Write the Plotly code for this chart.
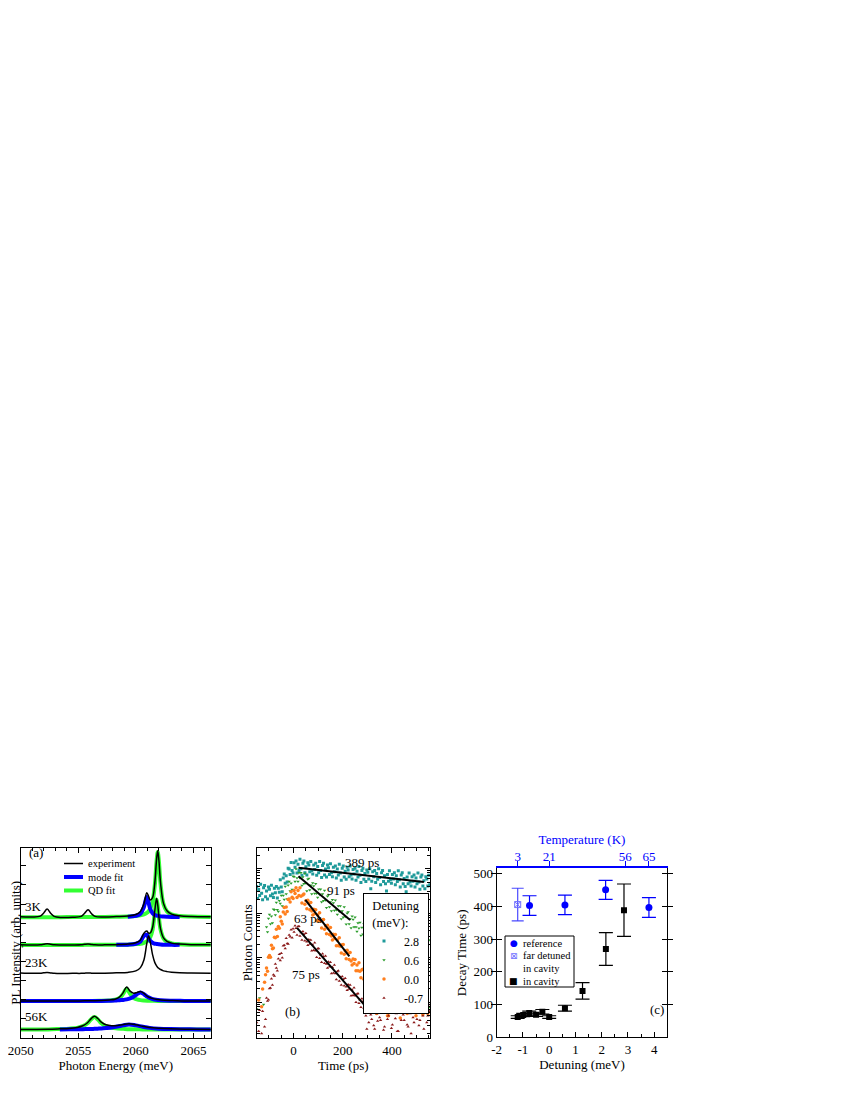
import plotly.graph_objects as go

# ---------------- panel (a): PL spectra, stacked ----------------
OFFSETS = [6.32, 4.86, 3.38, 1.93, 0.44]
TEMP_LABELS = ["3K", "23K", "56K"]

E_HI = [2050, 2051, 2051.7, 2052.0, 2052.3, 2052.6, 2052.9, 2053.5, 2054.5, 2055.25,
        2055.55, 2055.85, 2056.15, 2056.45, 2057.3, 2058.3, 2059.3, 2060.0, 2060.4, 2060.7,
        2060.95, 2061.1, 2061.25, 2061.45, 2061.65, 2061.8, 2061.9, 2062.0, 2062.15, 2062.4,
        2062.7, 2063.1, 2063.8, 2064.8, 2066.6]
EXP_3K = [0.02, 0.01, 0.05, 0.22, 0.42, 0.20, 0.04, -0.02, -0.01, 0.04,
          0.20, 0.38, 0.18, 0.04, 0.01, 0.03, 0.06, 0.14, 0.30, 0.70,
          1.28, 1.10, 0.90, 1.02, 1.82, 3.02, 3.47, 2.98, 1.76, 0.72,
          0.33, 0.16, 0.07, 0.03, 0.02]
MODE_3K = [None] * 16 + [0.02, 0.07, 0.18, 0.53,
           1.05, 0.77, 0.43, 0.21, 0.11, 0.08, 0.07, 0.06, 0.04, 0.03,
           0.02, 0.01, 0.01, None, None]
QD_3K = [0.0, 0.0, 0.0, 0.0, 0.0, 0.0, 0.0, 0.0, 0.01, 0.01,
         0.01, 0.01, 0.01, 0.01, 0.01, 0.02, 0.03, 0.06, 0.09, 0.14,
         0.22, 0.30, 0.44, 0.80, 1.70, 2.93, 3.40, 2.93, 1.70, 0.68,
         0.30, 0.14, 0.06, 0.03, 0.01]
EXP_T2 = [0.01, 0.0, 0.01, 0.04, 0.07, 0.04, 0.01, 0.0, 0.0, 0.01,
          0.04, 0.06, 0.03, 0.01, 0.01, 0.02, 0.05, 0.12, 0.27, 0.62,
          0.73, 0.63, 0.63, 0.92, 1.82, 2.44, 2.10, 1.49, 0.83, 0.37,
          0.19, 0.10, 0.05, 0.02, 0.01]
MODE_T2 = [None] * 15 + [0.01, 0.02, 0.07, 0.19, 0.48,
           0.54, 0.36, 0.22, 0.12, 0.07, 0.06, 0.05, 0.04, 0.03, 0.02,
           0.02, 0.01, 0.01, None, None]
QD_T2 = [0.0, 0.0, 0.0, 0.0, 0.0, 0.0, 0.0, 0.0, 0.0, 0.0,
         0.01, 0.01, 0.01, 0.01, 0.01, 0.01, 0.02, 0.05, 0.07, 0.12,
         0.19, 0.27, 0.41, 0.80, 1.75, 2.38, 2.05, 1.45, 0.80, 0.35,
         0.17, 0.09, 0.04, 0.02, 0.01]
EXP_23K = [0.02, 0.0, 0.01, 0.03, 0.04, 0.02, 0.0, -0.01, 0.0, 0.0,
           0.01, 0.02, 0.01, 0.0, 0.01, 0.03, 0.05, 0.13, 0.30, 0.70,
           1.56, 1.95, 1.65, 0.98, 0.56, 0.39, 0.31, 0.26, 0.20, 0.13,
           0.09, 0.06, 0.03, 0.02, 0.01]

E_T4 = [2050, 2051.5, 2053, 2054.2, 2055.2, 2056.2, 2057.0, 2057.7, 2058.2, 2058.6,
        2058.9, 2059.2, 2059.5, 2059.8, 2060.1, 2060.4, 2060.7, 2061.0, 2061.4, 2061.9,
        2062.5, 2063.2, 2064.2, 2065.2, 2066.6]
EXP_T4 = [0.0, 0.01, 0.0, 0.01, 0.01, 0.02, 0.03, 0.06, 0.10, 0.22,
          0.44, 0.74, 0.52, 0.41, 0.45, 0.50, 0.40, 0.25, 0.14, 0.08,
          0.04, 0.03, 0.01, 0.01, 0.01]
MODE_T4 = [0.0, 0.0, 0.0, 0.0, 0.01, 0.01, 0.01, 0.02, 0.03, 0.05,
           0.06, 0.09, 0.14, 0.23, 0.36, 0.45, 0.36, 0.23, 0.12, 0.06,
           0.03, 0.02, 0.01, 0.01, 0.0]
QD_T4 = [0.0, 0.0, 0.0, 0.0, 0.01, 0.01, 0.02, 0.03, 0.07, 0.17,
         0.38, 0.65, 0.38, 0.17, 0.09, 0.05, 0.03, 0.02, 0.02, 0.01,
         0.01, 0.01, 0.0, 0.0, 0.0]

E_56K = [2050, 2051.4, 2052.4, 2053.4, 2054.2, 2054.9, 2055.4, 2055.8, 2056.1, 2056.4,
         2056.7, 2057.0, 2057.4, 2057.9, 2058.4, 2058.9, 2059.4, 2060.0, 2060.6, 2061.2,
         2062.0, 2063.0, 2064.3, 2065.3, 2066.6]
EXP_56K = [0.01, 0.01, 0.02, 0.04, 0.06, 0.11, 0.20, 0.36, 0.56, 0.70,
           0.58, 0.39, 0.25, 0.20, 0.21, 0.26, 0.30, 0.25, 0.17, 0.11,
           0.07, 0.04, 0.02, 0.02, 0.01]
MODE_56K = [None, None, None, 0.01, 0.02, 0.02, 0.02, 0.03, 0.03, 0.04,
            0.05, 0.06, 0.08, 0.11, 0.16, 0.22, 0.27, 0.22, 0.15, 0.09,
            0.05, 0.03, 0.02, 0.01, 0.01]
QD_56K = [0.01, 0.01, 0.01, 0.03, 0.05, 0.09, 0.18, 0.33, 0.53, 0.66,
          0.53, 0.33, 0.18, 0.09, 0.06, 0.04, 0.02, 0.02, 0.01, 0.01,
          0.01, 0.01, 0.0, 0.0, 0.0]

# ---------------- panel (b): decay traces (log10 of photon counts, 4 ps bins) ----------------
DETUNINGS = ["2.8", "0.6", "0.0", "-0.7"]
T_PS = [-150, -146, -142, -138, -134, -130, -126, -122, -118, -114,
        -110, -106, -102, -98, -94, -90, -86, -82, -78, -74,
        -70, -66, -62, -58, -54, -50, -46, -42, -38, -34,
        -30, -26, -22, -18, -14, -10, -6, -2, 2, 6,
        10, 14, 18, 22, 26, 30, 34, 38, 42, 46,
        50, 54, 58, 62, 66, 70, 74, 78, 82, 86,
        90, 94, 98, 102, 106, 110, 114, 118, 122, 126,
        130, 134, 138, 142, 146, 150, 154, 158, 162, 166,
        170, 174, 178, 182, 186, 190, 194, 198, 202, 206,
        210, 214, 218, 222, 226, 230, 234, 238, 242, 246,
        250, 254, 258, 262, 266, 270, 274, 278, 282, 286,
        290, 294, 298, 302, 306, 310, 314, 318, 322, 326,
        330, 334, 338, 342, 346, 350, 354, 358, 362, 366,
        370, 374, 378, 382, 386, 390, 394, 398, 402, 406,
        410, 414, 418, 422, 426, 430, 434, 438, 442, 446,
        450, 454, 458, 462, 466, 470, 474, 478, 482, 486,
        490, 494, 498, 502, 506, 510, 514, 518, 522, 526,
        530, 534, 538, 542, 546, 550, 554]
LOG_28 = [3.60, 3.33, 3.53, 3.40, 3.65, 3.45, 3.30, 3.57, 3.62, 3.37,
          3.50, 3.32, 3.59, 3.54, 3.39, 3.63, 3.43, 3.35, 3.56, 3.46,
          3.60, 3.34, 3.56, 3.47, 3.75, 3.59, 3.48, 3.79, 3.88, 3.67,
          3.84, 3.70, 4.01, 3.99, 3.87, 4.14, 3.96, 3.90, 4.13, 4.03,
          4.17, 3.90, 4.10, 3.96, 4.21, 4.00, 3.85, 4.12, 4.17, 3.91,
          4.04, 3.86, 4.13, 4.08, 3.93, 4.16, 3.96, 3.88, 4.08, 3.98,
          4.12, 3.85, 4.05, 3.91, 4.16, 3.96, 3.80, 4.07, 4.12, 3.86,
          3.99, 3.81, 4.08, 4.02, 3.87, 4.11, 3.91, 3.82, 4.03, 3.93,
          4.06, 3.79, 3.99, 3.86, 4.10, 3.90, 3.74, 4.01, 4.06, 3.81,
          3.94, 3.76, 4.03, 3.97, 3.82, 4.06, 3.86, 3.77, 3.98, 3.88,
          4.01, 3.74, 3.94, 3.81, 4.05, 3.85, 3.69, 3.96, 4.01, 3.76,
          3.89, 3.71, 3.97, 3.92, 3.77, 4.00, 3.55, 3.72, 3.93, 3.82,
          3.96, 3.69, 3.89, 3.76, 4.00, 3.80, 3.64, 3.91, 3.96, 3.71,
          3.84, 3.66, 3.50, 3.87, 3.72, 3.95, 3.75, 3.67, 3.87, 3.77,
          3.91, 3.64, 3.84, 3.71, 3.95, 3.75, 3.59, 3.86, 3.91, 3.66,
          3.78, 3.60, 3.48, 3.81, 3.66, 3.90, 3.70, 3.61, 3.82, 3.72,
          3.86, 3.59, 3.79, 3.66, 3.90, 3.70, 3.54, 3.81, 3.86, 3.61,
          3.73, 3.55, 3.82, 3.77, 3.61, 3.85, 3.64]
LOG_06 = [0.85, None, None, 1.10, None, None, None, 0.95, None, None,
          2.69, 2.58, 2.88, 2.97, 2.76, 2.93, 2.78, 3.09, 3.08, 2.96,
          3.24, 3.08, 3.04, 3.28, 3.22, 3.40, 3.16, 3.40, 3.31, 3.60,
          3.43, 3.32, 3.63, 3.71, 3.50, 3.67, 3.53, 3.83, 3.82, 3.71,
          3.99, 3.79, 3.71, 3.91, 3.79, 3.91, 3.62, 3.81, 3.66, 3.89,
          3.67, 3.50, 3.76, 3.78, 3.52, 3.63, 3.43, 3.68, 3.61, 3.44,
          3.66, 3.44, 3.35, 3.54, 3.42, 3.54, 3.25, 3.43, 3.28, 3.51,
          3.29, 3.12, 3.38, 3.41, 3.14, 3.25, 3.05, 3.30, 3.23, 3.06,
          3.29, 3.07, 2.97, 3.16, 3.04, 3.16, 2.87, 3.05, 2.91, 3.14,
          2.92, 2.75, 3.00, 3.03, 2.76, 2.87, 2.67, 2.93, 2.86, 2.69,
          2.91, 2.69, 2.59, 2.78, 2.66, 2.79, 2.50, 2.68, 2.53, 2.76,
          2.56, 2.45, 2.52, 2.40, 2.47, 2.36, 2.44, 2.30, 2.38, 2.26,
          2.33, 2.22, 2.28, 2.15, 2.24, 2.10, 2.18, 2.06, 2.12, 2.00,
          2.08, 1.95, 2.02, 1.88, 1.96, 1.84, 1.90, 1.78, 1.86, 1.72,
          1.80, 0.90, 1.74, 1.62, 1.70, 1.58, 1.64, 1.52, 1.60, 1.46,
          1.54, 1.42, 0.95, 1.36, 1.46, 1.30, 1.40, 1.26, 1.34, 1.20,
          1.30, 1.16, 0.80, 1.10, 1.22, 1.04, 1.15, 0.98, 1.08, 0.92,
          1.02, 0.86, 0.96, 1.05, 1.70, 0.88, 2.40]
LOG_00 = [None, None, 1.05, None, None, 0.90, 1.30, None, 1.45, 1.62,
          1.77, 1.70, 2.01, 2.05, 2.01, 2.28, 2.20, 2.22, 2.46, 2.45,
          2.64, 2.48, 2.70, 2.66, 2.92, 2.82, 2.76, 3.03, 3.13, 2.98,
          3.14, 3.04, 3.31, 3.32, 3.25, 3.48, 3.36, 3.33, 3.51, 3.44,
          3.57, 3.35, 3.51, 3.40, 3.57, 3.38, 3.23, 3.41, 3.43, 3.20,
          3.28, 3.10, 3.29, 3.23, 3.08, 3.24, 3.05, 2.96, 3.09, 2.99,
          3.08, 2.83, 2.96, 2.83, 3.01, 2.82, 2.67, 2.85, 2.86, 2.64,
          2.72, 2.54, 2.73, 2.66, 2.52, 2.68, 2.49, 2.40, 2.53, 2.43,
          2.52, 2.27, 2.40, 2.27, 2.45, 2.26, 2.11, 2.29, 2.30, 2.08,
          2.16, 1.98, 2.17, 2.10, 1.96, 2.12, 1.93, 1.84, 1.97, 1.87,
          1.96, 1.71, 1.84, 1.71, 1.89, 1.70, 1.55, 1.73, 1.74, 1.52,
          1.40, 1.30, 1.15, 1.22, 0.95, 1.08, 1.10, 0.82, 0.85, 1.00,
          1.30, None, 0.75, 0.95, 1.05, None, None, 0.80, 0.90, None,
          1.20, None, None, 0.70, 0.70, None, 1.00, None, None, 0.85,
          0.85, None, None, 1.05, 1.10, None, 0.65, None, None, 0.90,
          0.95, None, None, 0.75, 0.80, None, None, 1.00, 1.05, None,
          None, 0.85, 0.70, None, None, 0.95, 0.90, None, None, 0.72,
          1.15, None, None, 0.80, 0.75, None, None]
LOG_M07 = [0.55, None, 0.35, 0.82, None, 0.30, 0.80, None, 0.45, 0.62,
           1.10, 1.03, 1.06, 1.31, 1.32, 1.53, 1.39, 1.62, 1.59, 1.86,
           1.77, 1.71, 1.98, 2.08, 1.94, 2.10, 2.00, 2.27, 2.28, 2.21,
           2.44, 2.32, 2.31, 2.51, 2.47, 2.63, 2.45, 2.65, 2.58, 2.72,
           2.66, 2.51, 2.70, 2.71, 2.49, 2.57, 2.40, 2.59, 2.53, 2.38,
           2.55, 2.36, 2.28, 2.41, 2.31, 2.40, 2.16, 2.29, 2.17, 2.34,
           2.16, 2.01, 2.20, 2.21, 1.99, 2.07, 1.90, 2.09, 2.03, 1.88,
           2.04, 1.86, 1.77, 1.91, 1.80, 1.90, 1.65, 1.79, 1.66, 1.84,
           1.65, 1.51, 1.69, 1.71, 1.48, 1.57, 1.39, 1.58, 1.52, 1.37,
           1.54, 1.35, 1.27, 1.40, 1.30, 1.39, 1.15, 1.28, 1.16, 1.33,
           1.15, 1.00, 1.19, 1.20, 0.98, 1.06, 0.89, 1.08, 1.02, 0.87,
           0.90, 0.70, 0.40, 0.85, 0.55, 0.95, 0.72, 0.62, 0.95, 0.48,
           0.40, 0.80, 0.75, 0.58, 1.00, 0.66, 0.60, 0.88, 0.80, 0.38,
           0.45, 0.92, 0.95, 0.62, 0.70, 0.82, 0.85, 0.42, 0.50, 0.98,
           0.90, 0.64, 0.75, 0.35, 0.35, 0.86, 0.80, 0.60, 1.05, 0.72,
           0.60, 0.94, 0.85, 0.50, 0.45, 0.78, 0.75, 0.30, 0.95, 0.66,
           0.55, 0.88, 0.80, 0.62, 1.00, 0.48, 0.60, 0.92, 0.85, 0.70,
           0.40, 0.82, 0.90, 0.55, 0.70, 0.95, 0.80]
# single-exponential fits, start and end points (time ps, log10 counts)
FIT_T = [[20, 530], [20, 230], [48, 227], [14, 293]]
FIT_LOG = [[4.02, 3.70], [3.83, 2.85], [3.30, 2.03], [2.67, 0.91]]
FIT_LABELS = ["389 ps", "91 ps", "63 ps", "75 ps"]

# ---------------- panel (c): decay time vs detuning ----------------
REF_DET = [-0.75, 0.6, 2.15, 3.8]
REF_TAU = [403, 405, 451, 397]
REF_ERR = [30, 30, 29, 30]
FAR_DET = [-1.2]
FAR_TAU = [406]
FAR_ERR = [50]
CAV_DET = [-1.2, -0.99, -0.76, -0.5, -0.26, 0.0, 0.6, 1.27, 2.16, 2.85]
CAV_TAU = [62, 68, 74, 69, 78, 62, 89, 142, 270, 389]
CAV_ERR = [4, 5, 6, 5, 7, 4, 9, 25, 50, 80]
DET_TICKS = [-2, -1, 0, 1, 2, 3, 4]
TEMP_POS = [-1.2, 0.0, 2.9, 3.8]
TEMP_K = ["3", "21", "56", "65"]

FONT = "Liberation Serif"
BLUE = "#0000ff"
LIGHT_BLUE = "#6f6fff"
GREEN = "#33ff33"
COLORS_B = ["#1f9a9a", "#2a9d2a", "#ff7f1e", "#8b1a1a"]
SYMBOLS_B = ["square", "triangle-down", "circle", "triangle-up"]

fig = go.Figure()

# panel (a)
spectra = [
    (E_HI, EXP_3K, MODE_3K, QD_3K),
    (E_HI, EXP_T2, MODE_T2, QD_T2),
    (E_HI, EXP_23K, None, None),
    (E_T4, EXP_T4, MODE_T4, QD_T4),
    (E_56K, EXP_56K, MODE_56K, QD_56K),
]
styles_a = {3: (GREEN, 4, "QD fit"), 2: (BLUE, 4, "mode fit"), 1: ("black", 1.5, "experiment")}
for kind in (3, 2, 1):
    col, width, name = styles_a[kind]
    for off, spec in zip(OFFSETS, spectra):
        vals = spec[kind]
        if vals is None:
            continue
        y = [None if v is None else v + off for v in vals]
        fig.add_trace(go.Scatter(
            x=spec[0], y=y, mode="lines", line=dict(color=col, width=width, shape="spline"),
            name=name, showlegend=False, xaxis="x", yaxis="y"))

# panel (b)
for lab, logs, col, sym in zip(DETUNINGS, [LOG_28, LOG_06, LOG_00, LOG_M07], COLORS_B, SYMBOLS_B):
    fig.add_trace(go.Scatter(
        x=T_PS, y=[None if v is None else 10 ** v for v in logs], mode="markers",
        marker=dict(color=col, symbol=sym, size=3.5 if sym == "circle" else 3),
        name=lab, legend="legend2", xaxis="x2", yaxis="y2"))
for ft, fl in zip(FIT_T, FIT_LOG):
    fig.add_trace(go.Scatter(
        x=ft, y=[10 ** v for v in fl], mode="lines", line=dict(color="black", width=2),
        showlegend=False, xaxis="x2", yaxis="y2"))

# panel (c)
fig.add_trace(go.Scatter(
    x=REF_DET, y=REF_TAU, mode="markers", name="reference", showlegend=False,
    marker=dict(color=BLUE, size=7, symbol="circle"),
    error_y=dict(type="data", array=REF_ERR, color=BLUE, thickness=1.2, width=7),
    xaxis="x3", yaxis="y3"))
fig.add_trace(go.Scatter(
    x=FAR_DET, y=FAR_TAU, mode="markers", name="far detuned in cavity", showlegend=False,
    marker=dict(color=LIGHT_BLUE, size=6, symbol="square-x-open", line=dict(width=1)),
    error_y=dict(type="data", array=FAR_ERR, color="#4a4aff", thickness=1.2, width=6),
    xaxis="x3", yaxis="y3"))
fig.add_trace(go.Scatter(
    x=CAV_DET, y=CAV_TAU, mode="markers", name="in cavity", showlegend=False,
    marker=dict(color="black", size=6, symbol="square"),
    error_y=dict(type="data", array=CAV_ERR, color="black", thickness=1.2, width=7),
    xaxis="x3", yaxis="y3"))
# carrier for the temperature axis on top
fig.add_trace(go.Scatter(x=TEMP_POS, y=[None] * len(TEMP_POS), mode="markers",
                         showlegend=False, hoverinfo="skip", xaxis="x4", yaxis="y3"))

# the page body has an 8 px margin, so the figure is placed 8 px in and sized to fit
PAGE = 8
W, H = 850 - 2 * PAGE, 1100 - 2 * PAGE


def px_x(a):
    return (a - PAGE) / W


def px_y(b):
    return 1 - (b - PAGE) / H


def dom_x(a, b):
    return [px_x(a), px_x(b)]


def dom_y(top, bottom):
    return [px_y(bottom), px_y(top)]


# compact in-panel keys for (a) and (c)
shapes, notes = [], []
for (col, width, name), yk in zip([styles_a[1], styles_a[2], styles_a[3]], [863.5, 877, 890.5]):
    shapes.append(dict(type="line", xref="paper", yref="paper", x0=px_x(64), x1=px_x(83),
                       y0=px_y(yk), y1=px_y(yk), line=dict(color=col, width=width)))
    notes.append(dict(xref="paper", yref="paper", x=px_x(86), y=px_y(yk), text=name,
                      xanchor="left", yanchor="middle", showarrow=False,
                      font=dict(family=FONT, size=10.5)))
shapes.append(dict(type="rect", xref="paper", yref="paper", x0=px_x(505), x1=px_x(574),
                   y0=px_y(936), y1=px_y(987), line=dict(color="black", width=1),
                   fillcolor="white"))
for sym, col, size, yk in [("●", BLUE, 9, 943), ("⊠", LIGHT_BLUE, 9, 955.5), ("■", "black", 9, 981)]:
    notes.append(dict(xref="paper", yref="paper", x=px_x(513.5), y=px_y(yk), text=sym,
                      xanchor="center", yanchor="middle", showarrow=False,
                      font=dict(family="DejaVu Sans", size=size, color=col)))
for txt, yk in [("reference", 943), ("far detuned", 955.5), ("in cavity", 968.5), ("in cavity", 981)]:
    notes.append(dict(xref="paper", yref="paper", x=px_x(521), y=px_y(yk), text=txt,
                      xanchor="left", yanchor="middle", showarrow=False,
                      font=dict(family=FONT, size=10.5)))

tick_font = dict(family=FONT, size=13, color="black")
title_font = dict(family=FONT, size=13, color="black")
box = dict(showline=True, linecolor="black", linewidth=1, showgrid=False, zeroline=False,
           ticks="inside", tickcolor="black", tickfont=tick_font, mirror="allticks",
           automargin=False, ticklabeloverflow="allow")

fig.update_layout(
    width=W, height=H, margin=dict(l=0, r=0, t=0, b=0),
    paper_bgcolor="white", plot_bgcolor="white",
    font=dict(family=FONT, size=13, color="black"),
    xaxis=dict(box, domain=dom_x(20.7, 210.7), range=[2050, 2066.5], dtick=5, ticklen=5,
               minor=dict(dtick=1, ticklen=3, ticks="inside", tickcolor="black"),
               anchor="y", title=dict(text="Photon Energy (meV)", font=title_font, standoff=2)),
    yaxis=dict(box, domain=dom_y(847.7, 1038), range=[0, 9.95], dtick=1, ticklen=5,
               showticklabels=False, anchor="x",
               title=dict(text="PL Intensity (arb. units)", font=title_font, standoff=1)),
    xaxis2=dict(box, domain=dom_x(256.7, 430), range=[-150, 555], tickvals=[0, 200, 400],
                ticklen=5, minor=dict(dtick=50, ticklen=3, ticks="inside", tickcolor="black"),
                anchor="y2", title=dict(text="Time (ps)", font=title_font, standoff=2)),
    yaxis2=dict(box, domain=dom_y(847.7, 1038), type="log", range=[0.2, 4.47], dtick=1,
                ticklen=5, showticklabels=False, anchor="x2",
                minor=dict(dtick="D1", ticklen=3, ticks="inside", tickcolor="black"),
                title=dict(text="Photon Counts", font=title_font, standoff=0)),
    xaxis3=dict(box, domain=dom_x(496.7, 667.3), range=[-2, 4.5], tickvals=DET_TICKS,
                ticktext=[str(v) for v in DET_TICKS], ticklen=5, mirror=False,
                minor=dict(dtick=0.5, ticklen=3, ticks="inside", tickcolor="black"),
                anchor="y3", title=dict(text="Detuning (meV)", font=title_font, standoff=2)),
    yaxis3=dict(box, domain=dom_y(868.3, 1037.3), range=[0, 517], dtick=100, ticklen=5,
                anchor="x3", title=dict(text="Decay Time (ps)", font=title_font, standoff=4)),
    xaxis4=dict(overlaying="x3", anchor="y3", side="top", range=[-2, 4.5], automargin=False,
                tickvals=TEMP_POS, ticktext=TEMP_K, showline=True, linecolor=BLUE, linewidth=1.5,
                ticks="outside", ticklen=6, tickcolor=BLUE, showgrid=False, zeroline=False,
                ticklabelstandoff=-6,
                tickfont=dict(family=FONT, size=13, color=BLUE),
                title=dict(text="Temperature (K)", font=dict(family=FONT, size=13, color=BLUE),
                           standoff=2)),
    legend2=dict(x=px_x(363), y=px_y(893), xanchor="left", yanchor="top",
                 bgcolor="white", bordercolor="black", borderwidth=1,
                 title=dict(text="Detuning<br>(meV):", side="top center",
                            font=dict(family=FONT, size=12.5)),
                 font=dict(family=FONT, size=12)),
    shapes=shapes,
    annotations=notes + [
        dict(x=2051.3, y=9.72, xref="x", yref="y", text="(a)", showarrow=False),
        dict(x=2051.1, y=6.86, xref="x", yref="y", text=TEMP_LABELS[0], showarrow=False),
        dict(x=2051.4, y=3.95, xref="x", yref="y", text=TEMP_LABELS[1], showarrow=False),
        dict(x=2051.4, y=1.1, xref="x", yref="y", text=TEMP_LABELS[2], showarrow=False),
        dict(x=279, y=4.13, xref="x2", yref="y2", text=FIT_LABELS[0], showarrow=False),
        dict(x=191, y=3.51, xref="x2", yref="y2", text=FIT_LABELS[1], showarrow=False),
        dict(x=60, y=2.88, xref="x2", yref="y2", text=FIT_LABELS[2], showarrow=False),
        dict(x=52, y=1.63, xref="x2", yref="y2", text=FIT_LABELS[3], showarrow=False),
        dict(x=-4, y=0.79, xref="x2", yref="y2", text="(b)", showarrow=False),
        dict(x=4.09, y=84, xref="x3", yref="y3", text="(c)", showarrow=False),
    ],
)

fig.write_html("out.html")
